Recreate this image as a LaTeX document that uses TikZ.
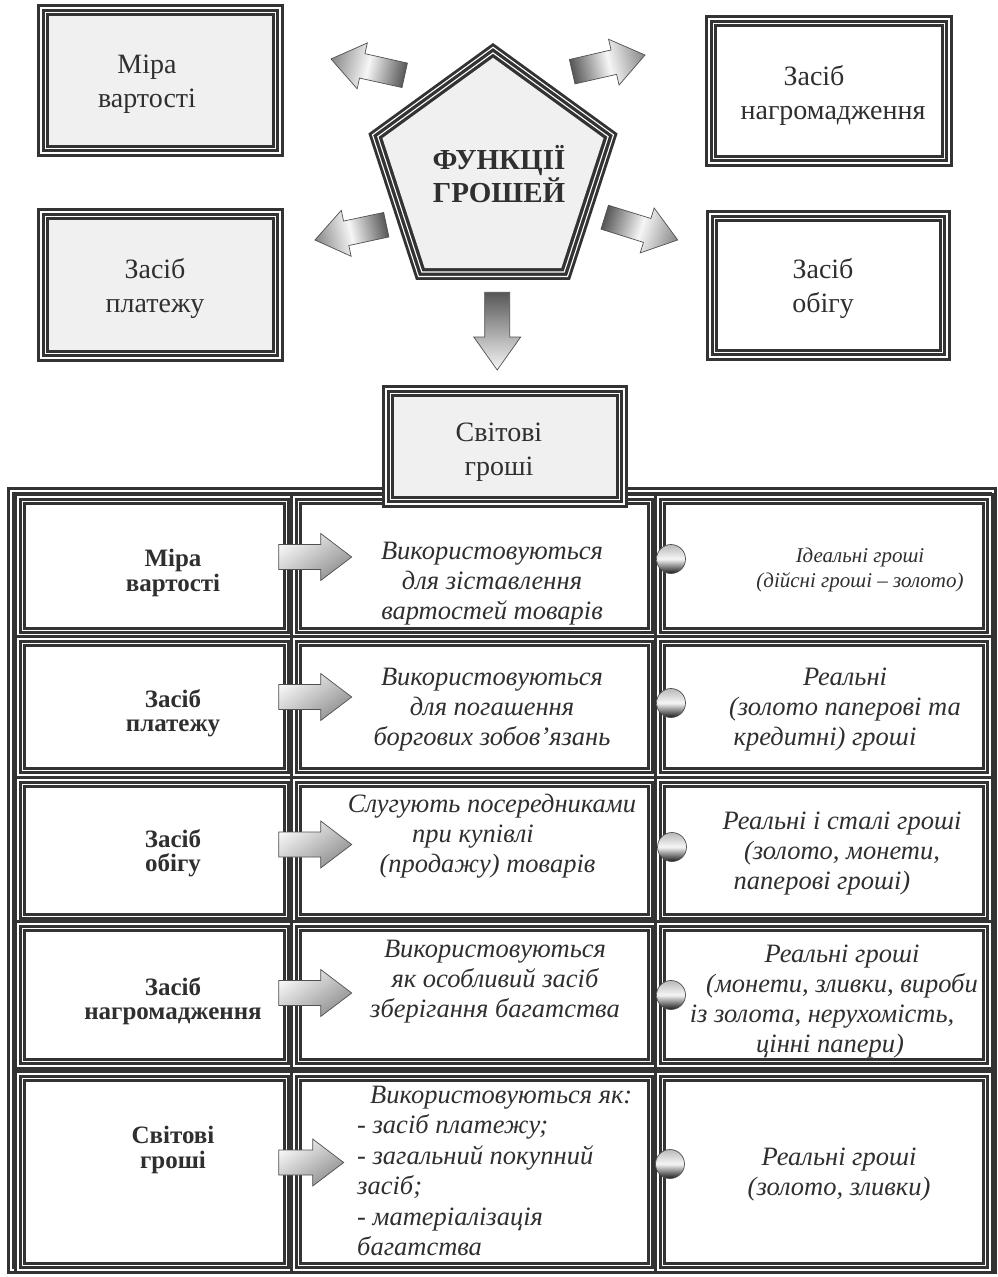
\documentclass[tikz,border=0pt]{standalone}
\usepackage{fontspec}
\setmainfont{Liberation Serif}
\definecolor{frame}{HTML}{333333}
\definecolor{ink}{HTML}{2F2F2F}
\definecolor{panel}{HTML}{F0F0F0}
\definecolor{arrowline}{HTML}{505050}
\definecolor{shdark}{HTML}{575757}
\definecolor{shmid}{HTML}{858585}
\definecolor{shlight}{HTML}{F6F6F6}
\definecolor{rowdark}{HTML}{8E8E8E}

% empty box used to push a centred line sideways
\newcommand\pad[1]{\hbox to #1{}}

% framed panel: interior x1,y1,x2,y2 and interior fill
\newcommand\framedpanel[5]{%
  \fill[frame] ({#1-12},{#2-12}) rectangle ({#3+12},{#4+12});
  \draw[rule] ({#1-3.5},{#2-3.5}) rectangle ({#3+3.5},{#4+3.5});
  \draw[rule] ({#1-8},{#2-8}) rectangle ({#3+8},{#4+8});
  \fill[#5] (#1,#2) rectangle (#3,#4);}

% block arrow: tail centre x, y, direction, length, head length, shading
\newcommand\blockarrow[6]{%
  \begin{scope}[transform canvas={shift={(#1,#2)},rotate=#3}]
    \shade[#6,draw=arrowline,line width=0.7pt,line join=miter]
      (0,-12.5) -- ({#4-#5},-12.5) -- ({#4-#5},-23.5) -- (#4,0)
      -- ({#4-#5},23.5) -- ({#4-#5},12.5) -- (0,12.5) -- cycle;
  \end{scope}}

\begin{document}
\begin{tikzpicture}[x=1pt,y=-1pt,
  rule/.style={draw=white,line width=1.1pt},
  boxlabel/.style={font=\fontsize{28}{34}\selectfont,text=ink,align=center,inner sep=0pt},
  titlelabel/.style={font=\bfseries\fontsize{29}{33}\selectfont,text=ink,align=center,inner sep=0pt},
  rowhead/.style={font=\bfseries\fontsize{25}{24.5}\selectfont,text=ink,align=center,inner sep=0pt},
  cellnote/.style={font=\itshape\fontsize{26.5}{30}\selectfont,text=ink,align=center,inner sep=0pt},
  smallnote/.style={cellnote,font=\itshape\fontsize{21}{25}\selectfont},
  listnote/.style={cellnote,align=left,font=\itshape\fontsize{26.5}{30.4}\selectfont},
  diagshade/.style={left color=shdark,right color=shmid,middle color=shlight},
  downshade/.style={left color=shdark,right color=shlight},
  rowshade/.style={top color=shlight,bottom color=rowdark,shading angle=35},
  bulletshade/.style={top color=gray!55,bottom color=gray!20!black,middle color=shlight,draw=arrowline,line width=0.7pt}]

\useasboundingbox (0,0) rectangle (997,1277);
\fill[white] (0,0) rectangle (997,1277);

% ---------- upper panels ----------
\framedpanel{49}{16}{272}{145}{panel}
\framedpanel{717}{27}{941}{155}{white}
\framedpanel{49}{220}{272}{350}{panel}
\framedpanel{718}{222}{939}{349}{white}

% ---------- central pentagon ----------
\begin{scope}[shift={(493,174)}]
  \fill[frame] (-90:131) -- (-18:131) -- (54:131) -- (126:131) -- (198:131) -- cycle;
  \draw[rule] (-90:126.7) -- (-18:126.7) -- (54:126.7) -- (126:126.7) -- (198:126.7) -- cycle;
  \draw[rule] (-90:121.1) -- (-18:121.1) -- (54:121.1) -- (126:121.1) -- (198:121.1) -- cycle;
  \fill[panel] (-90:116.2) -- (-18:116.2) -- (54:116.2) -- (126:116.2) -- (198:116.2) -- cycle;
\end{scope}

% ---------- arrows around the pentagon ----------
\blockarrow{404.7}{75.3}{167.5}{75.5}{32}{diagshade}
\blockarrow{572.2}{71.7}{12.9}{74.7}{32}{diagshade}
\blockarrow{386.3}{224.7}{192.1}{73}{32}{diagshade}
\blockarrow{604.7}{217.2}{-17.3}{76.5}{32}{diagshade}
\blockarrow{497.2}{292.3}{-90}{77.7}{33}{downshade}

% ---------- table ----------
\fill[frame] (7,487) rectangle (997,1274);
\draw[rule] (11,491) rectangle (993,1270);
% row 1
\framedpanel{26}{505}{283}{627}{white}
\framedpanel{302}{505}{647}{627}{white}
\framedpanel{666}{505}{982}{627}{white}
% row 2
\framedpanel{26}{647}{283}{767}{white}
\framedpanel{302}{647}{647}{767}{white}
\framedpanel{666}{647}{982}{767}{white}
% row 3
\framedpanel{26}{788}{283}{913}{white}
\framedpanel{302}{788}{647}{913}{white}
\framedpanel{666}{788}{982}{913}{white}
% row 4
\framedpanel{26}{932}{283}{1058}{white}
\framedpanel{302}{932}{647}{1058}{white}
\framedpanel{666}{932}{982}{1058}{white}
% row 5
\framedpanel{26}{1082}{283}{1262}{white}
\framedpanel{302}{1082}{647}{1262}{white}
\framedpanel{666}{1082}{982}{1262}{white}

% panel that sits on the top edge of the table
\framedpanel{394}{397}{616}{496}{panel}

% ---------- row arrows and bullets ----------
\blockarrow{278.7}{557}{0}{73}{31}{rowshade}
\blockarrow{278.7}{697}{0}{73}{31}{rowshade}
\blockarrow{278.7}{844.5}{0}{73}{31}{rowshade}
\blockarrow{278.7}{993}{0}{73}{31}{rowshade}
\blockarrow{278.7}{1162.5}{0}{65}{31}{rowshade}

\shade[bulletshade] (671,559) circle (14.5pt);
\shade[bulletshade] (671,703) circle (14.5pt);
\shade[bulletshade] (672,847) circle (14.5pt);
\shade[bulletshade] (671,995) circle (14.5pt);
\shade[bulletshade] (670,1164) circle (14.5pt);

% ---------- labels ----------
\node[titlelabel] (title) at (499,174) {ФУНКЦІЇ\\ГРОШЕЙ};
\node[boxlabel] (measure) at (147,84) {Міра\\вартості};
\node[boxlabel] (hoard) at (833,95) {Засіб\pad{38pt}\\нагромадження};
\node[boxlabel] (payment) at (155,288.5) {Засіб\\платежу};
\node[boxlabel] (circulation) at (823,288) {Засіб\\обігу};
\node[boxlabel] (world) at (499,452.5) {Світові\\гроші};

\node[rowhead] (h1) at (173,573) {Міра\\вартості};
\node[rowhead] (h2) at (173,713) {Засіб\\платежу};
\node[rowhead] (h3) at (173,853) {Засіб\\обігу};
\node[rowhead] (h4) at (173,1001) {Засіб\\нагромадження};
\node[rowhead] (h5) at (173,1150) {Світові\\гроші};

\node[cellnote] (u1) at (492,584) {Використовуються\\для зіставлення\\вартостей товарів};
\node[cellnote] (u2) at (492,710) {Використовуються\\для погашення\\боргових зобов’язань};
\node[cellnote] (u3) at (492,836) {Слугують посередниками\\при купівлі\pad{38pt}\\(продажу) товарів\pad{9pt}};
\node[cellnote] (u4) at (495,982) {Використовуються\\як особливий засіб\\зберігання багатства};
\node[listnote,anchor=north west] (u5) at (357,1086) {\hspace*{13pt}Використовуються як:\\- засіб платежу;\\- загальний покупний\\засіб;\\- матеріалізація\\багатства};

\node[smallnote] (f1) at (860,570) {Ідеальні гроші\\(дійсні гроші – золото)};
\node[cellnote] (f2) at (845,710) {Реальні\\(золото паперові та\\кредитні) гроші\pad{40pt}};
\node[cellnote] (f3) at (842,854) {Реальні і сталі гроші\\(золото, монети,\\паперові гроші)\pad{40pt}};
\node[cellnote] (f4) at (842,1002) {Реальні гроші\\(монети, зливки, вироби\\із золота, нерухомість,\pad{40pt}\\цінні папери)\pad{24pt}};
\node[cellnote] (f5) at (839,1175) {Реальні гроші\\(золото, зливки)};
\end{tikzpicture}
\end{document}
